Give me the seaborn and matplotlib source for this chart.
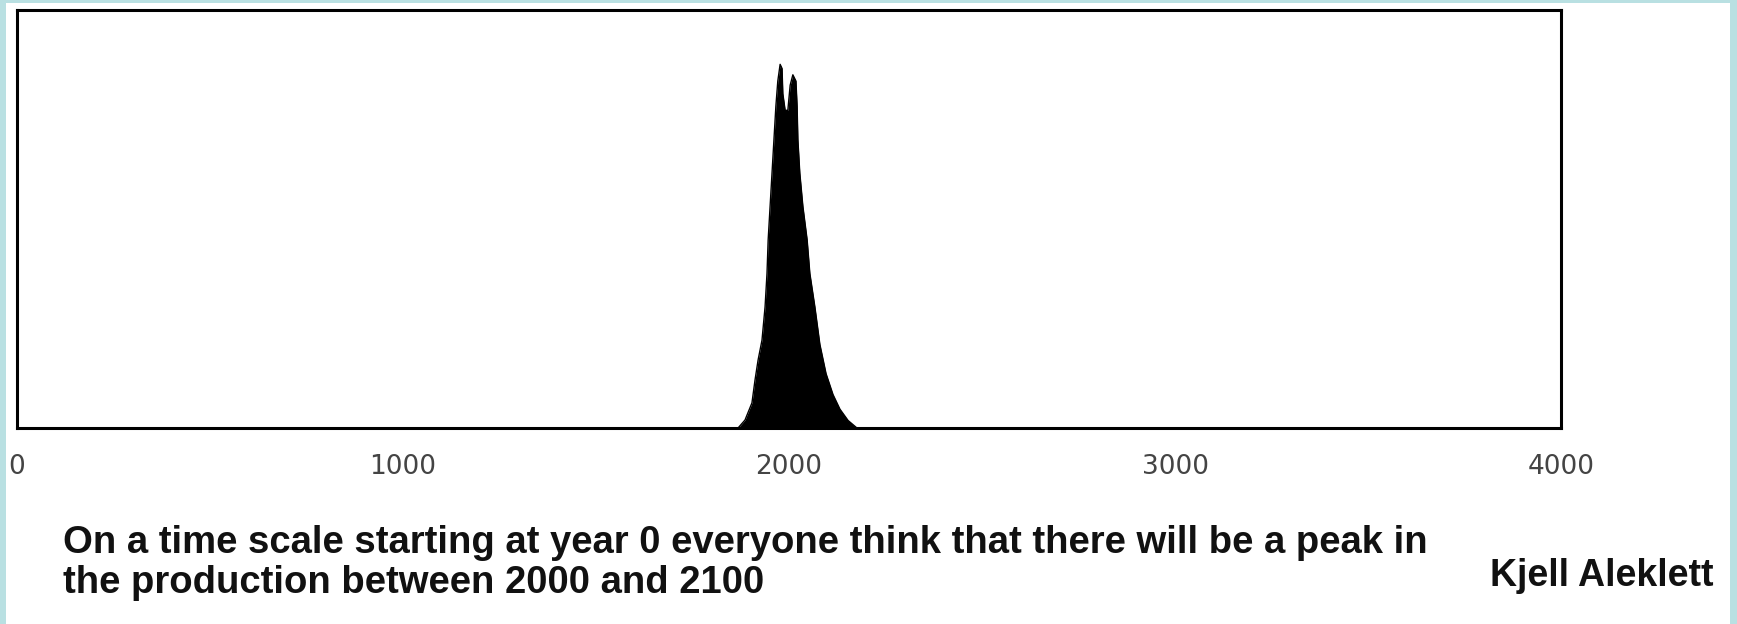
import matplotlib
matplotlib.use("Agg")
import matplotlib.pyplot as plt
import numpy as np
import seaborn as sns
from matplotlib.patches import Rectangle

# oil production curve (year, relative production)
years = [1868, 1886, 1904, 1912, 1920, 1930, 1938, 1943, 1946, 1951, 1956, 1961,
         1966, 1971, 1977, 1982, 1984, 1990, 1997, 2003, 2010, 2018, 2021, 2023,
         2028, 2036, 2047, 2054, 2067, 2080, 2096, 2114, 2132, 2153, 2176]
production = [0, 1.9, 6.0, 11.5, 16.3, 21, 29, 37, 45, 53, 61, 69,
              77, 83, 87.0, 86, 80, 76, 76, 82, 84.5, 83, 77, 69,
              61, 53, 45, 37, 29, 20, 13, 8, 4.5, 1.8, 0]
xticks = [0, 1000, 2000, 3000, 4000]
caption = ("On a time scale starting at year 0 everyone think that there will be a peak in\n"
           "the production between 2000 and 2100")
author = "Kjell Aleklett"

W, H = 1737, 624
sns.set_theme(style="white")
plt.rcParams['font.family'] = ['DejaVu Sans']

fig = plt.figure(figsize=(W / 100, H / 100), dpi=100)
fig.patch.set_facecolor('#b9e0e2')
fig.patches.append(Rectangle((6 / W, 0), (1730 - 6) / W, (H - 3) / H,
                             transform=fig.transFigure, facecolor='white',
                             edgecolor='none', zorder=-10))

ax = fig.add_axes([17 / W, (H - 428) / H, (1561 - 17) / W, (428 - 10) / H])
ax.set_zorder(2)
ax.set_facecolor('white')
sns.lineplot(x=years, y=production, ax=ax, color='black', linewidth=1)
ax.fill_between(years, production, color='black', linewidth=0)

ax.set_xlim(0, 4000)
ax.set_ylim(0, 100)
ax.set_xticks(xticks)
ax.set_xticklabels([str(t) for t in xticks], fontsize=19, color='#444444')
ax.set_yticks([])
ax.tick_params(axis='x', length=0, pad=19)
for s in ax.spines.values():
    s.set_visible(True)
    s.set_color('black')
    s.set_linewidth(2.2)

fig.text(63 / W, 1 - 593 / H, caption, fontsize=27.5, fontweight='bold',
         family='Liberation Sans', color='#111111', va='baseline',
         linespacing=1.15)
fig.text(1490 / W, 1 - 586 / H, author, fontsize=27, fontweight='bold',
         family='Liberation Sans', color='#111111', va='baseline')

fig.savefig('out.png', dpi=100)
